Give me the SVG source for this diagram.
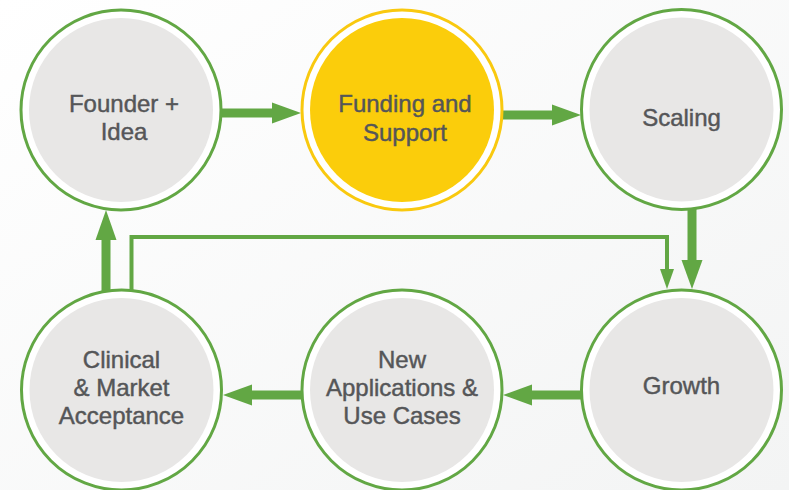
<svg xmlns="http://www.w3.org/2000/svg" width="789" height="490" viewBox="0 0 789 490">
<defs>
<linearGradient id="bg" x1="0" y1="0" x2="1" y2="1">
<stop offset="0" stop-color="#ffffff"/>
<stop offset="1" stop-color="#f3f4f4"/>
</linearGradient>
<style>
.ring{fill:#ffffff;stroke:#62a744;stroke-width:3}
.ringY{fill:#ffffff;stroke:#f9c90f;stroke-width:3}
.core{fill:#e8e7e6}
.coreY{fill:#fbcd0b}
.lbl{font-family:"Liberation Sans",Arial,Helvetica,sans-serif;font-size:24px;fill:#555658;stroke:#555658;stroke-width:0.45px;text-anchor:middle}
.bar{fill:#62a744}
.thin{fill:none;stroke:#62a744;stroke-width:4}
</style>
</defs>
<rect width="789" height="490" fill="url(#bg)"/>
<g id="connectors">
<rect class="bar" x="221" y="108.5" width="52" height="9"/>
<polygon class="bar" points="272,102.5 301,113 272,123.5"/>
<rect class="bar" x="502" y="110.5" width="51" height="9"/>
<polygon class="bar" points="552,104.5 581,115 552,125.5"/>
<rect class="bar" x="687.5" y="208" width="9" height="53"/>
<polygon class="bar" points="681.5,260 702.5,260 692,289"/>
<rect class="bar" x="531" y="390.5" width="51" height="9"/>
<polygon class="bar" points="532,384.5 503,395 532,405.5"/>
<rect class="bar" x="251" y="390.5" width="52" height="9"/>
<polygon class="bar" points="252,384.5 223,395 252,405.5"/>
<rect class="bar" x="101.5" y="238" width="9" height="53"/>
<polygon class="bar" points="95.5,240 116.5,240 106,210"/>
<polyline class="thin" points="131.5,291 131.5,237 667,237 667,270"/>
<polygon class="bar" points="660,269 674,269 667,289"/>
</g>
<g id="node-founder">
<circle class="ring" cx="121" cy="110" r="100"/>
<circle class="core" cx="121" cy="110" r="92"/>
<text class="lbl" x="124" y="112">Founder +</text>
<text class="lbl" x="124" y="140">Idea</text>
</g>
<g id="node-funding">
<circle class="ringY" cx="402" cy="110" r="100"/>
<circle class="coreY" cx="402" cy="110" r="92"/>
<text class="lbl" x="405" y="112">Funding and</text>
<text class="lbl" x="405" y="140.5">Support</text>
</g>
<g id="node-scaling">
<circle class="ring" cx="681.5" cy="109.5" r="100"/>
<circle class="core" cx="681.5" cy="109.5" r="92"/>
<text class="lbl" x="681.5" y="126">Scaling</text>
</g>
<g id="node-growth">
<circle class="ring" cx="681.5" cy="390" r="100"/>
<circle class="core" cx="681.5" cy="390" r="92"/>
<text class="lbl" x="681.5" y="394">Growth</text>
</g>
<g id="node-newapps">
<circle class="ring" cx="402" cy="390" r="100"/>
<circle class="core" cx="402" cy="390" r="92"/>
<text class="lbl" x="402" y="368">New</text>
<text class="lbl" x="402" y="396">Applications &amp;</text>
<text class="lbl" x="402" y="424">Use Cases</text>
</g>
<g id="node-clinical">
<circle class="ring" cx="121.5" cy="390" r="100"/>
<circle class="core" cx="121.5" cy="390" r="92"/>
<text class="lbl" x="121.5" y="368">Clinical</text>
<text class="lbl" x="121.5" y="396">&amp; Market</text>
<text class="lbl" x="121.5" y="424">Acceptance</text>
</g>
</svg>
